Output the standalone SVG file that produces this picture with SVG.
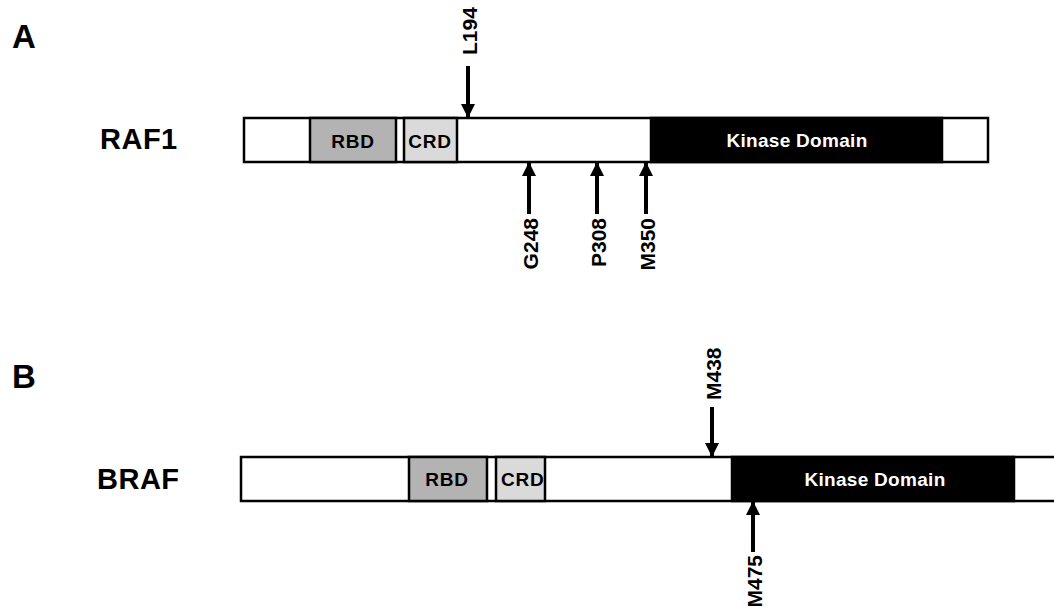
<svg xmlns="http://www.w3.org/2000/svg" width="1054" height="610" viewBox="0 0 1054 610">
<style>
text{font-family:"Liberation Sans",Arial,sans-serif;font-weight:bold;fill:#000}
.panel{font-size:33px}
.prot{font-size:29px;letter-spacing:0.5px}
.dom{font-size:19px;letter-spacing:0.8px}
.kin{font-size:19px;letter-spacing:0.3px;fill:#fff}
.mut{font-size:21px}
.bar{fill:#fff;stroke:#000;stroke-width:2.5}
.rbd{fill:#b3b3b3;stroke:#000;stroke-width:2.5}
.crd{fill:#dadada;stroke:#000;stroke-width:2.5}
.kd{fill:#000;stroke:#000;stroke-width:2.5}
.arr{stroke:#000;stroke-width:4;fill:none}
</style>
<defs>
<marker id="ah" markerUnits="userSpaceOnUse" markerWidth="14" markerHeight="14" refX="13" refY="7" orient="auto">
<path d="M0,0 L14,7 L0,14 Z" fill="#000"/>
</marker>
</defs>
<rect width="1054" height="610" fill="#fff"/>
<text class="panel" x="12" y="48">A</text>
<text class="panel" x="12" y="388">B</text>

<g id="raf1">
<text class="prot" x="100" y="149">RAF1</text>
<rect class="bar" x="244" y="118" width="744" height="44"/>
<rect id="raf1-rbd" class="rbd" x="310" y="118" width="86" height="44"/>
<text class="dom" x="353" y="148" text-anchor="middle">RBD</text>
<rect id="raf1-crd" class="crd" x="404" y="118" width="53" height="44"/>
<text class="dom" x="430" y="148" text-anchor="middle">CRD</text>
<rect id="raf1-kd" class="kd" x="651" y="118" width="291" height="44"/>
<text class="kin" x="797" y="147" text-anchor="middle">Kinase Domain</text>
</g>

<g id="braf">
<text class="prot" x="97" y="489">BRAF</text>
<rect class="bar" x="241" y="457" width="830" height="44"/>
<rect id="braf-rbd" class="rbd" x="409" y="457" width="78" height="44"/>
<text class="dom" x="447" y="486" text-anchor="middle">RBD</text>
<rect id="braf-crd" class="crd" x="496" y="457" width="49" height="44"/>
<text class="dom" x="501" y="486">CRD</text>
<rect id="braf-kd" class="kd" x="732" y="457" width="282" height="44"/>
<text class="kin" x="875" y="486" text-anchor="middle">Kinase Domain</text>
</g>

<g id="connectors">
<line class="arr" x1="468" y1="66" x2="468" y2="117" marker-end="url(#ah)"/>
<line class="arr" x1="529" y1="214" x2="529" y2="163" marker-end="url(#ah)"/>
<line class="arr" x1="597" y1="214" x2="597" y2="163" marker-end="url(#ah)"/>
<line class="arr" x1="646" y1="214" x2="646" y2="163" marker-end="url(#ah)"/>
<line class="arr" x1="712" y1="407" x2="712" y2="456" marker-end="url(#ah)"/>
<line class="arr" x1="753" y1="552" x2="753" y2="502" marker-end="url(#ah)"/>
</g>

<g id="labels">
<text class="mut" x="477" y="55" transform="rotate(-90 477 55)">L194</text>
<text class="mut" x="538" y="218" text-anchor="end" transform="rotate(-90 538 218)">G248</text>
<text class="mut" x="606" y="218" text-anchor="end" transform="rotate(-90 606 218)">P308</text>
<text class="mut" x="655" y="218" text-anchor="end" transform="rotate(-90 655 218)">M350</text>
<text class="mut" x="721" y="400" transform="rotate(-90 721 400)">M438</text>
<text class="mut" x="762" y="555" text-anchor="end" transform="rotate(-90 762 555)">M475</text>
</g>
</svg>
